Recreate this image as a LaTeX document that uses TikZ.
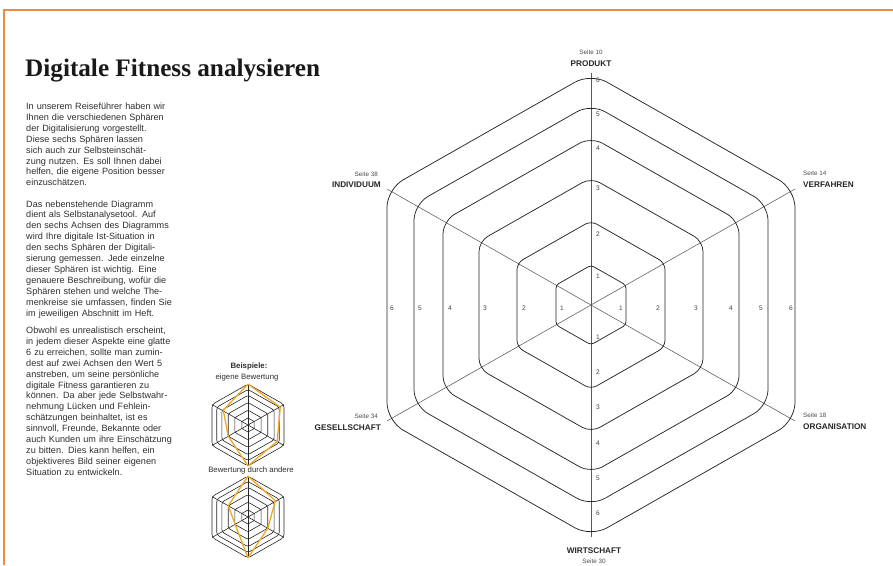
\documentclass[tikz,border=0pt]{standalone}
\usepackage{fontspec}
\setmainfont{Liberation Sans}
\newfontfamily\titlefont{Liberation Serif}
\definecolor{framec}{HTML}{EF8A3E}
\definecolor{markc}{HTML}{F2A81D}
\definecolor{txt}{HTML}{2E2E2E}
\begin{document}
\begin{tikzpicture}[x=1pt,y=-1pt,
  body/.style={anchor=base west, inner sep=0, text width=175pt, align=left, font=\fontsize{9.1}{10.9}\selectfont, text=txt},
  ring/.style={draw=black!85, line width=0.75pt},
  axis/.style={draw=black!65, line width=0.55pt},
  num/.style={font=\fontsize{6.6}{7}\selectfont, text=black!75, inner sep=0},
  cat/.style={font=\bfseries\fontsize{8.2}{9}\selectfont, text=black!85, inner sep=0},
  pg/.style={font=\fontsize{6.3}{7}\selectfont, text=black!70, inner sep=0},
  small/.style={font=\fontsize{7.8}{9}\selectfont, text=txt, inner sep=0},
  sring/.style={draw=black!85, line width=0.6pt},
  orangeline/.style={draw=markc, line width=1.3pt, line join=round}]
\useasboundingbox (0,0) rectangle (893,565);
% frame
\draw[framec, line width=1.6pt] (4,565) -- (4,10) -- (893,10);
% title
\node[anchor=base west, inner sep=0, font=\titlefont\bfseries\fontsize{25.2}{30}\selectfont, text=black!90] (title) at (25,76) {Digitale Fitness analysieren};
% body text
\node[body] (p1) at (26,109.5) {In unserem Reiseführer haben wir\\
Ihnen die verschiedenen Sphären\\
der Digitalisierung vorgestellt.\\
Diese sechs Sphären lassen\\
sich auch zur Selbsteinschät-\\
zung nutzen. Es soll Ihnen dabei\\
helfen, die eigene Position besser\\
einzuschätzen.};
\node[body] (p2) at (26,207) {Das nebenstehende Diagramm\\
dient als Selbstanalysetool. Auf\\
den sechs Achsen des Diagramms\\
wird Ihre digitale Ist-Situation in\\
den sechs Sphären der Digitali-\\
sierung gemessen. Jede einzelne\\
dieser Sphären ist wichtig. Eine\\
genauere Beschreibung, wofür die\\
Sphären stehen und welche The-\\
menkreise sie umfassen, finden Sie\\
im jeweiligen Abschnitt im Heft.};
\node[body] (p3) at (26,333.5) {Obwohl es unrealistisch erscheint,\\
in jedem dieser Aspekte eine glatte\\
6 zu erreichen, sollte man zumin-\\
dest auf zwei Achsen den Wert 5\\
anstreben, um seine persönliche\\
digitale Fitness garantieren zu\\
können. Da aber jede Selbstwahr-\\
nehmung Lücken und Fehlein-\\
schätzungen beinhaltet, ist es\\
sinnvoll, Freunde, Bekannte oder\\
auch Kunden um ihre Einschätzung\\
zu bitten. Dies kann helfen, ein\\
objektiveres Bild seiner eigenen\\
Situation zu entwickeln.};
% big radar
\coordinate (c) at (591,305);
\coordinate (vt) at (591,73.1);
\coordinate (vb) at (591,536.9);
\coordinate (vul) at (387,189);
\coordinate (vur) at (795,189);
\coordinate (vll) at (387,421);
\coordinate (vlr) at (795,421);
\draw[axis] (vt) -- (vb);
\draw[axis] (vul) -- (vlr);
\draw[axis] (vur) -- (vll);
\foreach \w in {35,74,112,148,177,204}{
  \pgfmathsetmacro\r{1.137*\w}
  \pgfmathsetmacro\h{0.5*\r}
  \pgfmathsetmacro\rc{0.09*\w}
  \draw[ring, rounded corners=\rc pt] (591+\w,305) -- (591+\w,305+\h) -- (591,305+\r) -- (591-\w,305+\h) -- (591-\w,305-\h) -- (591,305-\r) -- (591+\w,305-\h) -- cycle;
}
% numbers
\foreach \n/\y in {6/80,5/114,4/148,3/188,2/234,1/276}{
  \node[num] (nt\n) at (598,\y) {\n};
}
\foreach \n/\y in {1/337,2/372,3/407,4/443,5/478,6/513}{
  \node[num] (nb\n) at (598,\y) {\n};
}
\foreach \n/\x in {6/392,5/420,4/450,3/485,2/524,1/562}{
  \node[num] (nl\n) at (\x,308) {\n};
}
\foreach \n/\x in {1/621,2/658,3/696,4/731,5/761,6/791}{
  \node[num] (nr\n) at (\x,308) {\n};
}
% axis labels
\node[pg] (s10) at (591,52) {Seite 10};
\node[cat] (produkt) at (591,64) {PRODUKT};
\node[pg, anchor=east] (s38) at (378,174) {Seite 38};
\node[cat, anchor=east] (individuum) at (381,185) {INDIVIDUUM};
\node[pg, anchor=west] (s14) at (803,173) {Seite 14};
\node[cat, anchor=west] (verfahren) at (803,185) {VERFAHREN};
\node[pg, anchor=east] (s34) at (378,416) {Seite 34};
\node[cat, anchor=east] (gesellschaft) at (381,428) {GESELLSCHAFT};
\node[pg, anchor=west] (s18) at (803,415) {Seite 18};
\node[cat, anchor=west] (organisation) at (803,427) {ORGANISATION};
\node[cat] (wirtschaft) at (594,551) {WIRTSCHAFT};
\node[pg] (s30) at (594,561) {Seite 30};
% examples
\node[small, font=\bfseries\fontsize{7.8}{9}\selectfont] (bsp) at (249,366) {Beispiele:};
\node[small] (eigen) at (247,377) {eigene Bewertung};
\node[small] (andere) at (251,470) {Bewertung durch andere};
\foreach \cy/\pts in {425/{(0,-231.9) -- (183,-100.6) -- (165,93) -- (0,231.9) -- (-112,63.7) -- (-140,-84.1)}, 517/{(0,-231.9) -- (155,-92) -- (112,63.7) -- (0,231.9) -- (-65,62) -- (-112,-63.7)}}{
  \begin{scope}[shift={(248,\cy)}, x=0.1765pt, y=-0.1765pt]
    \foreach \w in {35,74,112,148,177,204}{
      \pgfmathsetmacro\r{1.137*\w}
      \pgfmathsetmacro\h{0.5*\r}
      \pgfmathsetmacro\rc{0.015*\w}
      \draw[sring, rounded corners=\rc pt] (\w,0) -- (\w,\h) -- (0,\r) -- (-\w,\h) -- (-\w,-\h) -- (0,-\r) -- (\w,-\h) -- cycle;
    }
    \draw[sring] (0,-231.9) -- (0,231.9);
    \draw[sring] (-204,-116) -- (204,116);
    \draw[sring] (204,-116) -- (-204,116);
    \draw[orangeline] \pts -- cycle;
  \end{scope}
}
\end{tikzpicture}
\end{document}
